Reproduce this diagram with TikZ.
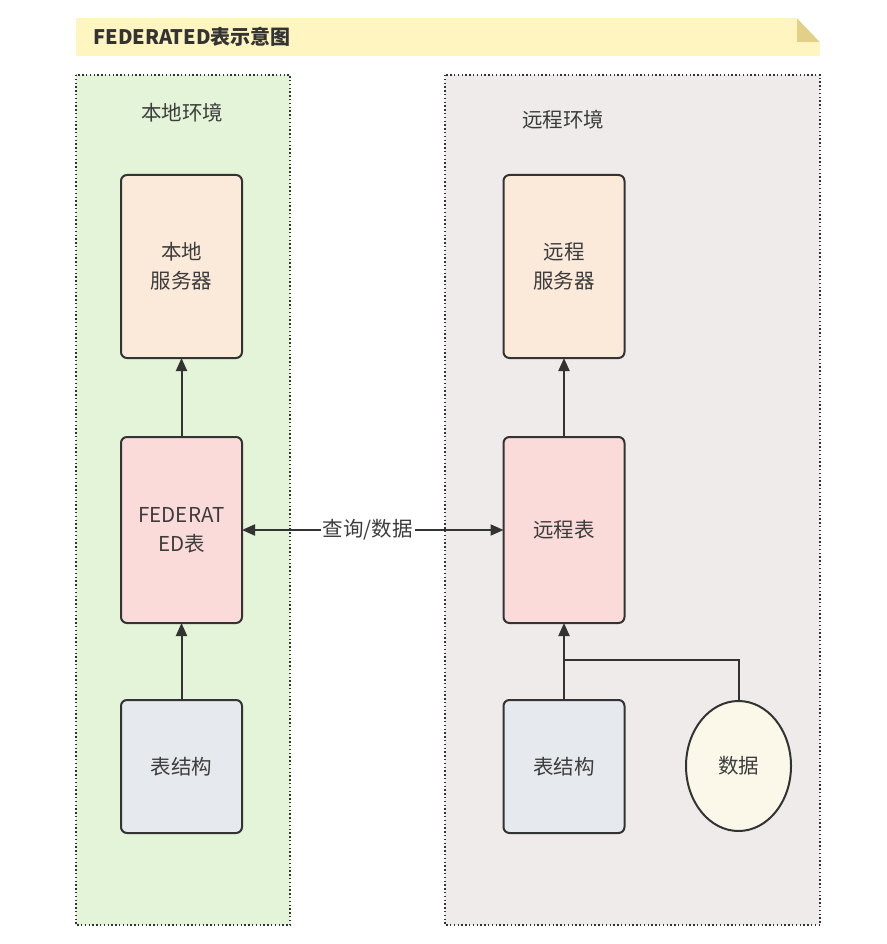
\documentclass[tikz,border=0pt]{standalone}
\usepackage{fontspec}
\setmainfont{Noto Sans CJK SC}
\usetikzlibrary{arrows.meta,shapes.geometric,calc}
\definecolor{bannerc}{HTML}{FFF5C0}
\definecolor{foldc}{HTML}{E2CF88}
\definecolor{envl}{HTML}{E3F4D8}
\definecolor{envr}{HTML}{EFEBEA}
\definecolor{srvc}{HTML}{FBE9DA}
\definecolor{tabc}{HTML}{FADBD9}
\definecolor{strc}{HTML}{E6E9ED}
\definecolor{datc}{HTML}{FBF8E9}
\definecolor{linec}{HTML}{333333}
\definecolor{txtc}{HTML}{3C3C3C}
\tikzset{
  envbox/.style={draw=linec, line width=1.7pt, dash pattern=on 1.4pt off 2.4pt},
  blk/.style={draw=linec, line width=2pt, rounded corners=6pt, inner sep=0pt, outer sep=0pt,
    minimum width=121pt, align=center, font=\fontsize{20.5}{29}\selectfont, text=txtc},
  conn/.style={draw=linec, line width=2pt},
  arr/.style={conn, -{Triangle[length=13pt,width=11pt]}},
  lbl/.style={font=\fontsize{20.5}{24}\selectfont, text=txtc}
}
\begin{document}
\begin{tikzpicture}[x=1pt,y=-1pt]
\useasboundingbox (0,0) rectangle (886,944);
% banner
\fill[bannerc] (76,18) rectangle (820,56);
\fill[foldc] (797,18) -- (820,42) -- (797,42) -- cycle;
\fill[white] (797,18) -- (820,18) -- (820,42) -- cycle;
\node[anchor=west, font=\bfseries\fontsize{20}{24}\selectfont, text=linec] (title) at (90,37) {FEDERATED表示意图};
% environments
\filldraw[envbox, fill=envl] (76,75) rectangle (290,925);
\filldraw[envbox, fill=envr] (445,75) rectangle (820,925);
\node[lbl] (envL) at (182,113) {本地环境};
\node[lbl] (envR) at (563,120) {远程环境};
% left column
\node[blk, fill=srvc, minimum height=183pt] (ls) at (181.5,266.5) {本地\\服务器};
\node[blk, fill=tabc, minimum height=186pt] (fed) at (181.5,530) {FEDERAT\\ED表};
\node[blk, fill=strc, minimum height=133pt] (lt) at (181.5,766.5) {表结构};
% right column
\node[blk, fill=srvc, minimum height=183pt] (rs) at (564,266.5) {远程\\服务器};
\node[blk, fill=tabc, minimum height=186pt] (rtab) at (564,530) {远程表};
\node[blk, fill=strc, minimum height=133pt] (rt) at (564,766.5) {表结构};
\node[draw=linec, line width=2pt, ellipse, fill=datc, inner sep=0pt, minimum width=105pt, minimum height=130pt, font=\fontsize{20.5}{24}\selectfont, text=txtc] (dat) at (738.5,766) {数据};
% connectors
\draw[arr] (fed.north) -- (ls.south);
\draw[arr] (lt.north) -- (fed.south);
\draw[arr] (rtab.north) -- (rs.south);
\draw[arr] (rt.north) -- (rtab.south);
\coordinate (jn) at ($(rt.north)+(0,-40)$);
\draw[conn] (dat.north) |- (jn);
\draw[conn, {Triangle[length=13pt,width=11pt]}-{Triangle[length=13pt,width=11pt]}] (fed.east) -- node[pos=0.48, fill=white, inner sep=2pt, lbl] (q) {查询/数据} (rtab.west);
\end{tikzpicture}
\end{document}
